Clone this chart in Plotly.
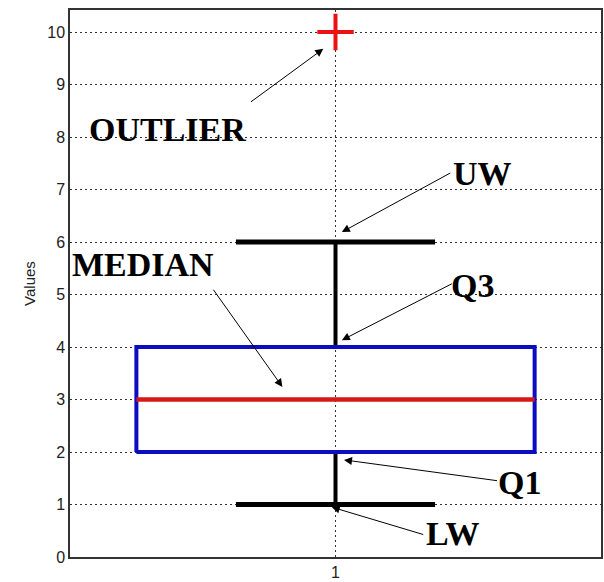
import plotly.graph_objects as go

# Box-plot summary statistics for the single group
group = [1]
lower_whisker = [1]
q1 = [2]
median = [3]
q3 = [4]
upper_whisker = [6]
outliers = [10]

y_ticks = list(range(0, 11))
x_ticks = [1]

box_half = 0.375
cap_half = 0.1875

fig = go.Figure()

for g, lw, a, m, b, uw in zip(group, lower_whisker, q1, median, q3, upper_whisker):
    # whisker stems
    fig.add_trace(go.Scatter(
        x=[g, g, None, g, g], y=[b, uw, None, lw, a],
        mode="lines", line=dict(color="black", width=4), hoverinfo="skip"))
    # whisker caps
    fig.add_trace(go.Scatter(
        x=[g - cap_half, g + cap_half, None, g - cap_half, g + cap_half],
        y=[uw, uw, None, lw, lw],
        mode="lines", line=dict(color="black", width=5), hoverinfo="skip"))
    # interquartile box
    fig.add_trace(go.Scatter(
        x=[g - box_half, g + box_half, g + box_half, g - box_half, g - box_half],
        y=[a, a, b, b, a],
        mode="lines", line=dict(color="#0c0cc0", width=4), hoverinfo="skip"))
    # median line
    fig.add_trace(go.Scatter(
        x=[g - box_half, g + box_half], y=[m, m],
        mode="lines", line=dict(color="#d81818", width=4.5), hoverinfo="skip"))

# outliers
fig.add_trace(go.Scatter(
    x=group * len(outliers), y=outliers, mode="markers",
    marker=dict(symbol="cross-thin", size=26,
                line=dict(color="#ee1111", width=4)),
    hoverinfo="skip"))

label_font = dict(family="Liberation Serif, Times New Roman, serif",
                  size=34, color="black")

# (text, text x, text y, arrow tail x, tail y, arrow tip x, tip y)
callouts = [
    ("<b>OUTLIER</b>", 0.684, 8.15, 0.838, 8.65, 0.977, 9.68),
    ("<b>MEDIAN</b>", 0.637, 5.58, 0.768, 5.12, 0.900, 3.24),
    ("<b>UW</b>", 1.277, 7.30, 1.219, 7.33, 1.012, 6.19),
    ("<b>Q3</b>", 1.258, 5.18, 1.222, 5.22, 1.012, 4.13),
    ("<b>Q1</b>", 1.346, 1.41, 1.307, 1.45, 1.016, 1.85),
    ("<b>LW</b>", 1.222, 0.44, 1.168, 0.42, 0.993, 0.95),
]

annotations = []
for text, tx, ty, ax, ay, hx, hy in callouts:
    annotations.append(dict(
        x=tx, y=ty, xref="x", yref="y", text=text, showarrow=False,
        font=label_font, xanchor="center", yanchor="middle"))
    annotations.append(dict(
        x=hx, y=hy, xref="x", yref="y", ax=ax, ay=ay, axref="x", ayref="y",
        text="", showarrow=True, arrowhead=2, arrowsize=1.6, arrowwidth=1,
        arrowcolor="black"))

fig.update_layout(
    width=604, height=582,
    margin=dict(l=70, r=1, t=10, b=25),
    paper_bgcolor="white", plot_bgcolor="white",
    showlegend=False,
    annotations=annotations,
    font=dict(family="Liberation Sans, Arial, sans-serif", size=16, color="#222"),
    xaxis=dict(
        range=[0.5, 1.5], tickvals=x_ticks, ticktext=[str(v) for v in x_ticks],
        showgrid=True, gridcolor="#333", griddash="2px,3px", gridwidth=1.2,
        zeroline=False, showline=True, linecolor="#333", linewidth=1.5,
        mirror=True, ticks="", fixedrange=True),
    yaxis=dict(
        range=[0, 10.42], tickvals=y_ticks, ticktext=[str(v) for v in y_ticks],
        showgrid=True, gridcolor="#333", griddash="2px,3px", gridwidth=1.2,
        zeroline=False, showline=True, linecolor="#333", linewidth=1.5,
        mirror=True, ticks="", fixedrange=True,
        title=dict(text="Values", font=dict(size=15), standoff=8)),
)

fig.write_html("out.html")
